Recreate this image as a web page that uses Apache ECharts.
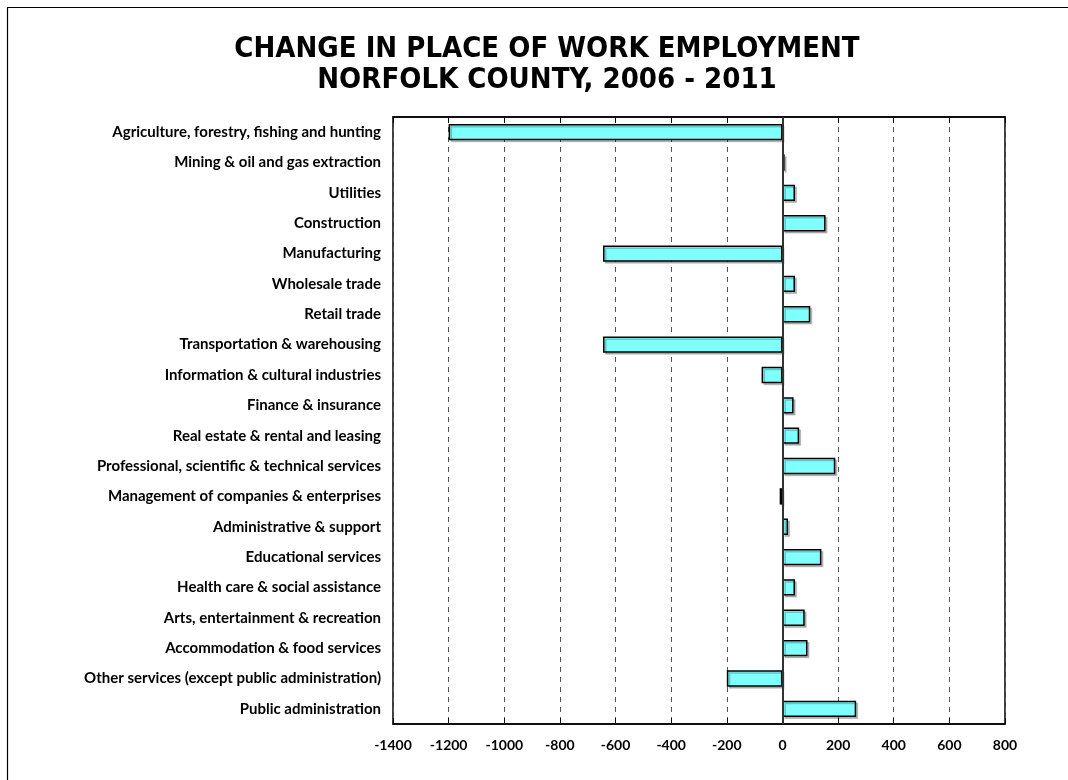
<!DOCTYPE html>
<html>
<head>
<meta charset="utf-8">
<script src="https://cdn.jsdelivr.net/npm/echarts@6/dist/echarts.min.js"></script>
<style>
html,body{margin:0;padding:0;background:#fff;}
#chart{width:1068px;height:780px;}
</style>
</head>
<body>
<div id="chart"></div>
<script>
const categories = [
  "Agriculture, forestry, fishing and hunting",
  "Mining & oil and gas extraction",
  "Utilities",
  "Construction",
  "Manufacturing",
  "Wholesale trade",
  "Retail trade",
  "Transportation & warehousing",
  "Information & cultural industries",
  "Finance & insurance",
  "Real estate & rental and leasing",
  "Professional, scientific & technical services",
  "Management of companies & enterprises",
  "Administrative & support",
  "Educational services",
  "Health care & social assistance",
  "Arts, entertainment & recreation",
  "Accommodation & food services",
  "Other services (except public administration)",
  "Public administration"
];
const changeValues = [-1200, 8, 45, 155, -645, 45, 100, -645, -75, 40, 60, 190, -10, 20, 140, 45, 80, 90, -200, 265];
const titleLines = ["CHANGE IN PLACE OF WORK EMPLOYMENT", "NORFOLK COUNTY, 2006 - 2011"];
const axisMin = -1400, axisMax = 800, axisStep = 200;

const chart = echarts.init(document.getElementById('chart'), null, {renderer: 'canvas'});
const fontFam = "Lato, 'Open Sans', sans-serif";
const option = {
  backgroundColor: '#fff',
  animation: false,
  title: {
    text: titleLines.join('\n'),
    left: 542, top: 29, textAlign: 'center',
    textStyle: {fontFamily: "'DejaVu Sans Condensed', 'DejaVu Sans', sans-serif", fontWeight: 'bold', fontSize: 29, lineHeight: 31, color: '#000'}
  },
  graphic: [{
    type: 'rect', shape: {x: 7.5, y: 7.5, width: 1100, height: 800},
    style: {fill: null, stroke: '#000', lineWidth: 1.2}, z: 100, silent: true
  }],
  grid: {left: 393, right: 63, top: 117, bottom: 56, show: true, borderColor: '#000', borderWidth: 1.5, backgroundColor: 'transparent'},
  xAxis: [{
    type: 'value', min: axisMin, max: axisMax, interval: axisStep, position: 'bottom',
    axisLine: {show: true, lineStyle: {color: '#000', width: 1.5}},
    axisTick: {show: true, inside: true, length: 6, lineStyle: {color: '#000'}},
    axisLabel: {color: '#000', fontFamily: fontFam, fontWeight: 'bold', fontSize: 14, margin: 14,
      formatter: v => String(v)},
    splitLine: {show: true, lineStyle: {color: '#555', type: [5, 5], width: 1}}
  }, {
    type: 'value', min: axisMin, max: axisMax, interval: axisStep, position: 'top',
    axisLine: {show: true, lineStyle: {color: '#000', width: 1.5}},
    axisTick: {show: true, inside: true, length: 6, lineStyle: {color: '#000'}},
    axisLabel: {show: false}, splitLine: {show: false}
  }],
  yAxis: {
    type: 'category', data: categories, inverse: true,
    axisLine: {show: false}, axisTick: {show: false},
    axisLabel: {color: '#000', fontFamily: fontFam, fontWeight: 'bold', fontSize: 15, margin: 12},
    splitLine: {show: false}
  },
  series: [{
    type: 'bar', data: changeValues, xAxisIndex: 0, barWidth: '54%',
    itemStyle: {color: '#80FFFF', borderColor: '#000', borderWidth: 1.5,
      shadowColor: 'rgba(0,0,0,0.22)', shadowOffsetX: 2, shadowOffsetY: 2, shadowBlur: 0},
    markLine: {silent: true, symbol: 'none', label: {show: false},
      lineStyle: {color: '#333', type: 'solid', width: 2}, data: [{xAxis: 0}]},
    z: 3
  }]
};
chart.setOption(option);
</script>
</body>
</html>
